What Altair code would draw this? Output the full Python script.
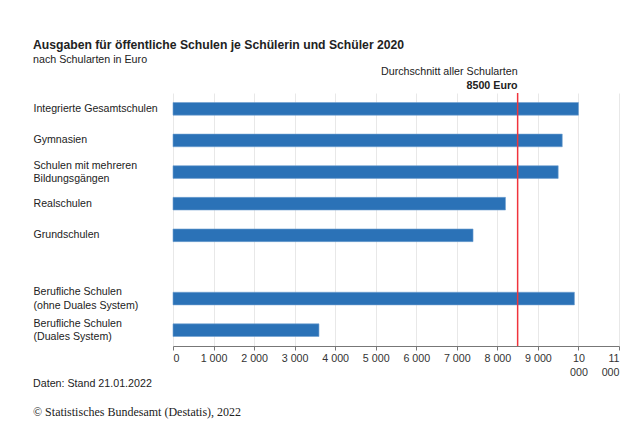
import altair as alt
import pandas as pd

categories = [
    "Integrierte Gesamtschulen",
    "Gymnasien",
    "Schulen mit mehreren|Bildungsgängen",
    "Realschulen",
    "Grundschulen",
    " ",
    "Berufliche Schulen|(ohne Duales System)",
    "Berufliche Schulen|(Duales System)",
]
bar_categories = [c for c in categories if c.strip()]
values = [10000, 9600, 9500, 8200, 7400, 9900, 3600]
average = 8500
x_ticks = list(range(0, 11001, 1000))

title_text = "Ausgaben für öffentliche Schulen je Schülerin und Schüler 2020"
subtitle_text = "nach Schularten in Euro"
avg_label = "Durchschnitt aller Schularten"
avg_value_label = "8500 Euro"
source_note = "Daten: Stand 21.01.2022"
copyright_note = "©     Statistisches Bundesamt (Destatis), 2022"

W, H = 446, 253
FONT = "Liberation Sans"
FS = 10.7

df = pd.DataFrame({"cat": bar_categories, "value": values})

x_scale = alt.Scale(domain=[0, 11000], nice=False)

bars = alt.Chart(df).mark_bar(color="#2b72b7", stroke="#6f9fd0", strokeWidth=0.6).encode(
    x=alt.X(
        "value:Q",
        scale=x_scale,
        axis=alt.Axis(
            values=x_ticks,
            title=None,
            grid=True,
            gridColor="#e8e8e8",
            domainColor="#777777",
            tickColor="#777777",
            tickSize=4,
            labelFont=FONT,
            labelFontSize=FS,
            labelColor="#333333",
            labelPadding=3,
            labelLineHeight=14,
            labelExpr="datum.value >= 10000 ? [format(floor(datum.value/1000),'d'), '000'] : replace(format(datum.value, ','), ',', ' ')",
        ),
    ),
    y=alt.Y(
        "cat:N",
        scale=alt.Scale(domain=categories, paddingInner=0.6, paddingOuter=0.3),
        axis=alt.Axis(
            title=None,
            ticks=False,
            domain=False,
            labelAlign="left",
            labelPadding=140,
            labelFont=FONT,
            labelFontSize=10.6,
            labelColor="#222222",
            labelLimit=200,
            labelLineHeight=13.5,
            labelOffset={"condition": {"test": "indexof(datum.value, '|') >= 0", "value": -6.5}, "value": 0},
            labelExpr="split(datum.label, '|')",
        ),
    ),
)

rule = alt.Chart(pd.DataFrame({"avg": [average]})).mark_rule(
    color="#f0343c", strokeWidth=1.5
).encode(x=alt.X("avg:Q", scale=x_scale))

ann1 = alt.Chart(pd.DataFrame({"avg": [average], "t": [avg_label]})).mark_text(
    align="right", baseline="middle", font=FONT, fontSize=FS, color="#222222"
).encode(x=alt.X("avg:Q", scale=x_scale), y=alt.value(-21), text="t:N")

ann2 = alt.Chart(pd.DataFrame({"avg": [average], "t": [avg_value_label]})).mark_text(
    align="right", baseline="middle", font=FONT, fontSize=FS, fontWeight="bold", color="#222222"
).encode(x=alt.X("avg:Q", scale=x_scale), y=alt.value(-7), text="t:N")

foot1 = alt.Chart(pd.DataFrame({"t": [source_note]})).mark_text(
    align="left", baseline="middle", font=FONT, fontSize=FS, color="#222222"
).encode(x=alt.value(-140), y=alt.value(291), text="t:N")

foot2 = alt.Chart(pd.DataFrame({"t": [copyright_note]})).mark_text(
    align="left", baseline="middle", font="Liberation Serif", fontSize=12, color="#222222"
).encode(x=alt.value(-140), y=alt.value(319), text="t:N")

chart = alt.layer(bars, rule, ann1, ann2, foot1, foot2).properties(
    width=W,
    height=H,
    autosize=alt.AutoSizeParams(type="none"),
    padding={"left": 165, "top": 85, "right": 8, "bottom": 80},
    title=alt.Title(
        text=title_text,
        subtitle=subtitle_text,
        anchor="start",
        frame="group",
        dx=-140,
        font=FONT,
        fontSize=12.2,
        fontWeight="bold",
        color="#222222",
        subtitleFont=FONT,
        subtitleFontSize=FS,
        subtitleColor="#222222",
        subtitlePadding=4,
        offset=1,
    ),
).configure_view(stroke=None)

chart.save("out.html", embed_options={"renderer": "svg", "actions": False})
